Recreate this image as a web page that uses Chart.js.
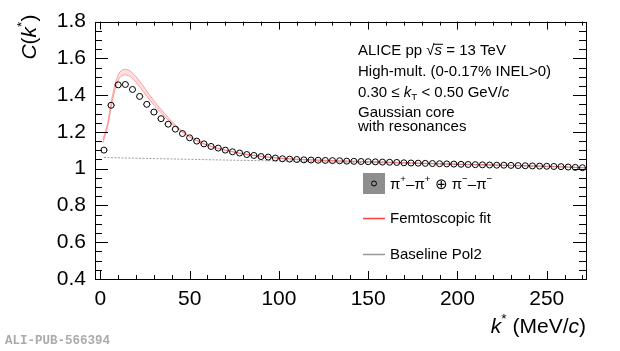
<!DOCTYPE html>
<html>
<head>
<meta charset="utf-8">
<script src="https://cdn.jsdelivr.net/npm/chart.js@4/dist/chart.umd.min.js"></script>
<style>
html,body{margin:0;padding:0;background:#fff;}
#c{display:block;}
</style>
</head>
<body>
<canvas id="c" width="620" height="351"></canvas>
<script>
// ---- data ----
const kStar = [2,6,10,14,18,22,26,30,34,38,42,46,50,54,58,62,66,70,74,78,82,86,90,94,98,102,
  106,110,114,118,122,126,130,134,138,142,146,150,154,158,162,166,170,174,178,182,186,190,194,198,
  202,206,210,214,218,222,226,230,234,238,242,246,250,254,258,262,266,270];
const cfValues = [1.101,1.345,1.456,1.458,1.431,1.393,1.350,1.308,1.272,1.242,1.215,1.191,1.168,1.150,1.135,1.121,1.112,1.101,1.092,1.085,1.077,1.072,1.066,1.063,1.058,1.054,
  1.052,1.050,1.048,1.047,1.046,1.045,1.044,1.043,1.041,1.040,1.039,1.038,1.037,1.036,1.035,1.034,1.032,1.031,1.030,1.029,1.028,1.027,1.026,1.025,
  1.024,1.023,1.022,1.021,1.020,1.019,1.019,1.018,1.017,1.016,1.015,1.014,1.013,1.012,1.011,1.009,1.007,1.005];
const binHalfWidth = 2;

const fitK     = [1.5, 3,    4,     6,    8,    10,   12,    14,   16,    18,   20,   24,   28,    32,    36,    40,    45,    50,    60,    70,    80,    90,    100,   120,   150,   200,   250,   272];
const fitLower = [1.14,1.19, 1.225, 1.33, 1.42, 1.48, 1.505, 1.51, 1.505, 1.49, 1.47, 1.42, 1.37,  1.325, 1.285, 1.245, 1.205, 1.172, 1.127, 1.100, 1.080, 1.066, 1.056, 1.046, 1.037, 1.023, 1.012, 1.004];
const fitUpper = [1.16,1.21, 1.245, 1.36, 1.45, 1.51, 1.535, 1.54, 1.535, 1.52, 1.50, 1.45, 1.395, 1.345, 1.30,  1.257, 1.213, 1.176, 1.129, 1.102, 1.082, 1.068, 1.058, 1.048, 1.039, 1.025, 1.014, 1.005];

const baseK    = [2,     25,    50,    75,    100,   150,   200,   250,   272];
const baseVals = [1.061, 1.056, 1.051, 1.046, 1.042, 1.033, 1.024, 1.012, 1.006];

const xTickValues = [0,50,100,150,200,250];
const xTickLabels = ["0","50","100","150","200","250"];
const yTickValues = [0.4,0.6,0.8,1.0,1.2,1.4,1.6,1.8];
const yTickLabels = ["0.4","0.6","0.8","1","1.2","1.4","1.6","1.8"];

const legendLabels = ["π⁺–π⁺ ⊕ π⁻–π⁻","Femtoscopic fit","Baseline Pol2"];
const infoLines = ["ALICE pp √s = 13 TeV","High-mult. (0-0.17% INEL>0)","0.30 ≤ kT < 0.50 GeV/c","Gaussian core","with resonances"];

// ---- helpers ----
const FAM = '"Liberation Sans", Arial, Helvetica, sans-serif';
function font(size, italic){ return (italic?'italic ':'') + size + 'px ' + FAM; }

// draw a sequence of runs: {t, i (italic), sup, sub}
function drawRuns(ctx, x, y, runs, size, align){
  ctx.save();
  ctx.textBaseline = 'middle';
  ctx.textAlign = 'left';
  let w = 0;
  const items = runs.map(r=>{
    const s = (r.sup||r.sub) ? size*0.65 : size;
    ctx.font = font(s, r.i);
    const m = ctx.measureText(r.t).width;
    const it = {r, s, m};
    w += m + (r.gap||0);
    return it;
  });
  let cx = align==='right' ? x - w : x;
  items.forEach(it=>{
    ctx.font = font(it.s, it.r.i);
    let dy = 0;
    if (it.r.sup) dy = -size*0.35;
    if (it.r.sub) dy = size*0.3;
    ctx.fillText(it.r.t, cx, y+dy);
    if (it.r.over){
      ctx.beginPath();
      ctx.lineWidth = 1;
      ctx.moveTo(cx-1, y - size*0.45);
      ctx.lineTo(cx+it.m+1, y - size*0.45);
      ctx.strokeStyle = ctx.fillStyle;
      ctx.stroke();
    }
    cx += it.m + (it.r.gap||0);
  });
  ctx.restore();
  return w;
}

const decor = {
  id:'decor',
  afterDatasetsDraw(chart){
    const ctx = chart.ctx;
    const xs = chart.scales.x, ys = chart.scales.y;
    // x error bars of data points
    ctx.save();
    ctx.strokeStyle = '#000';
    ctx.lineWidth = 1;
    kStar.forEach((k,i)=>{
      const px = xs.getPixelForValue(k), py = ys.getPixelForValue(cfValues[i]);
      const l = xs.getPixelForValue(k-binHalfWidth), r = xs.getPixelForValue(k+binHalfWidth);
      ctx.beginPath();
      ctx.moveTo(l, py); ctx.lineTo(px-3, py);
      ctx.moveTo(px+3, py); ctx.lineTo(r, py);
      ctx.stroke();
    });
    ctx.restore();
  },
  afterDraw(chart){
    const ctx = chart.ctx;
    const a = chart.chartArea;
    const xs = chart.scales.x, ys = chart.scales.y;
    ctx.save();
    ctx.strokeStyle = '#000';
    ctx.lineWidth = 1;
    // frame
    ctx.strokeRect(Math.round(a.left)+0.5, Math.round(a.top)+0.5, Math.round(a.right-a.left), Math.round(a.bottom-a.top));
    // y ticks (left & right, inward)
    ctx.beginPath();
    for (let v = 0.4; v <= 1.8001; v += 0.05){
      const major = Math.abs(v*5 - Math.round(v*5)) < 1e-6;
      const len = major ? 13 : 7;
      const py = Math.round(ys.getPixelForValue(v)) + 0.5;
      ctx.moveTo(a.left, py); ctx.lineTo(a.left+len, py);
      ctx.moveTo(a.right, py); ctx.lineTo(a.right-len, py);
    }
    // x ticks (bottom & top, inward)
    for (let v = 0; v <= 270; v += 10){
      const major = v % 50 === 0;
      const len = major ? 8 : 4;
      const px = Math.round(xs.getPixelForValue(v)) + 0.5;
      ctx.moveTo(px, a.bottom); ctx.lineTo(px, a.bottom-len);
      ctx.moveTo(px, a.top); ctx.lineTo(px, a.top+len);
    }
    ctx.stroke();
    ctx.restore();

    ctx.save();
    ctx.fillStyle = '#000';
    // info text
    const tx = 358, ts = 15;
    drawRuns(ctx, tx, 51, [{t:'ALICE pp '},{t:'√'},{t:'s', i:true, over:true},{t:' = 13 TeV'}], ts);
    drawRuns(ctx, tx, 72, [{t:infoLines[1]}], ts);
    drawRuns(ctx, tx, 93, [{t:'0.30 ≤ '},{t:'k', i:true},{t:'T', sub:true},{t:' < 0.50 GeV/'},{t:'c', i:true}], ts);
    drawRuns(ctx, tx, 113, [{t:infoLines[3]}], ts);
    drawRuns(ctx, tx, 127, [{t:infoLines[4]}], ts);

    // legend
    ctx.fillStyle = '#8e8e8e';
    ctx.fillRect(363, 173, 22, 21);
    ctx.beginPath();
    ctx.arc(374, 183.5, 2.5, 0, Math.PI*2);
    ctx.strokeStyle = '#000'; ctx.lineWidth = 1; ctx.stroke();
    ctx.fillStyle = '#000';
    drawRuns(ctx, 390, 185, [{t:'π'},{t:'+', sup:true},{t:'–π'},{t:'+', sup:true},{t:' ⊕ π'},{t:'−', sup:true},{t:'–π'},{t:'−', sup:true}], 15);
    ctx.beginPath(); ctx.strokeStyle = '#ff4040'; ctx.lineWidth = 1.5;
    ctx.moveTo(363, 218.5); ctx.lineTo(385, 218.5); ctx.stroke();
    drawRuns(ctx, 390, 219, [{t:legendLabels[1]}], 15);
    ctx.beginPath(); ctx.strokeStyle = '#999'; ctx.lineWidth = 1.5;
    ctx.moveTo(363, 254.5); ctx.lineTo(385, 254.5); ctx.stroke();
    drawRuns(ctx, 390, 255, [{t:legendLabels[2]}], 15);

    // axis titles
    drawRuns(ctx, a.right, 327, [{t:'k', i:true},{t:'*', sup:true},{t:' (MeV/'},{t:'c', i:true},{t:')'}], 21, 'right');
    ctx.save();
    ctx.translate(30, a.top - 7);
    ctx.rotate(-Math.PI/2);
    drawRuns(ctx, 0, 0, [{t:'C', i:true},{t:'('},{t:'k', i:true},{t:'*', sup:true},{t:')'}], 21, 'right');
    ctx.restore();

    // publication id
    ctx.font = 'bold 12.5px "Liberation Mono", "DejaVu Sans Mono", monospace';
    ctx.fillStyle = '#ababab';
    ctx.textBaseline = 'middle';
    ctx.textAlign = 'left';
    ctx.fillText('ALI-PUB-566394', 5, 341);
    ctx.restore();
  }
};

const ctx = document.getElementById('c').getContext('2d');
new Chart(ctx, {
  type: 'scatter',
  data: {
    datasets: [
      { label:'fit lower', data: fitK.map((k,i)=>({x:k, y:fitLower[i]})), showLine:true, pointRadius:0,
        borderColor:'rgba(255,60,60,0.45)', borderWidth:1, fill:false, cubicInterpolationMode:'monotone', order:3 },
      { label:'fit upper', data: fitK.map((k,i)=>({x:k, y:fitUpper[i]})), showLine:true, pointRadius:0,
        borderColor:'rgba(255,60,60,0.45)', borderWidth:1, fill:'-1', backgroundColor:'rgba(255,110,110,0.22)',
        cubicInterpolationMode:'monotone', order:3 },
      { label:'baseline', data: baseK.map((k,i)=>({x:k, y:baseVals[i]})), showLine:true, pointRadius:0,
        borderColor:'rgba(140,140,140,0.85)', borderWidth:1, borderDash:[2,1.5], fill:false,
        cubicInterpolationMode:'monotone', order:2 },
      { label:'data', data: kStar.map((k,i)=>({x:k, y:cfValues[i]})), showLine:false,
        pointStyle:'circle', pointRadius:3, borderColor:'#000', borderWidth:1,
        backgroundColor:'rgba(255,255,255,0)', order:1 }
    ]
  },
  options: {
    responsive:false,
    animation:false,
    events:[],
    layout:{ padding:{ top:19, right:34, left:0, bottom:0 } },
    plugins:{ legend:{display:false}, tooltip:{enabled:false} },
    scales:{
      x:{
        type:'linear', min:-3, max:272,
        grid:{display:false, drawTicks:false}, border:{display:false},
        afterBuildTicks: s => { s.ticks = xTickValues.map(v=>({value:v})); },
        afterFit: s => { s.height = 72; },
        ticks:{ color:'#000', padding:8, maxRotation:0, autoSkip:false,
          font:{ family:'"Liberation Sans", Arial, Helvetica, sans-serif', size:21 },
          callback: v => { const i = xTickValues.indexOf(v); return i>=0 ? xTickLabels[i] : ''; } }
      },
      y:{
        type:'linear', min:0.4, max:1.8,
        grid:{display:false, drawTicks:false}, border:{display:false},
        afterBuildTicks: s => { s.ticks = yTickValues.map(v=>({value:v})); },
        afterFit: s => { s.width = 95; },
        ticks:{ color:'#000', padding:9, autoSkip:false,
          font:{ family:'"Liberation Sans", Arial, Helvetica, sans-serif', size:21 },
          callback: v => { const i = yTickValues.findIndex(t=>Math.abs(t-v)<1e-6); return i>=0 ? yTickLabels[i] : ''; } }
      }
    }
  },
  plugins:[decor]
});
</script>
</body>
</html>
